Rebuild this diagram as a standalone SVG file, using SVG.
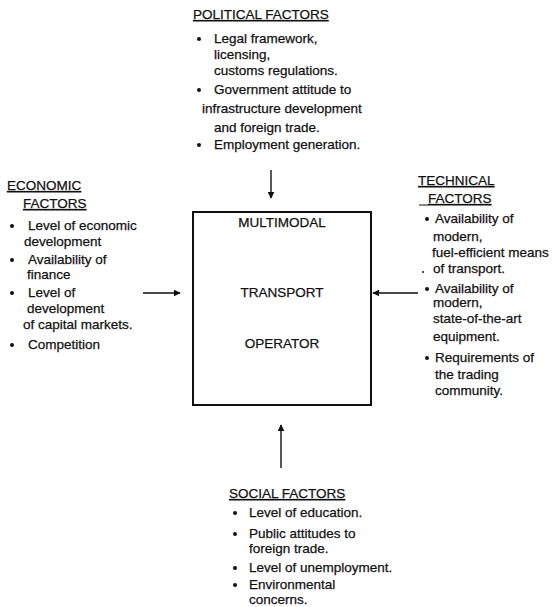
<svg xmlns="http://www.w3.org/2000/svg" width="559" height="607" viewBox="0 0 559 607">
<defs>
<marker id="ah" viewBox="0 0 10 10" refX="9" refY="5" markerWidth="7" markerHeight="7" markerUnits="userSpaceOnUse" orient="auto">
<path d="M0,0 L10,5 L0,10 Z" fill="#111"/>
</marker>
<style>
text{font-family:"Liberation Sans",Arial,sans-serif;font-size:13.5px;fill:#111;stroke:#111;stroke-width:0.25}
.u{text-decoration:underline}
.b{fill:#111}
.c{text-anchor:middle}
.conn line{stroke:#111;stroke-width:1.4;marker-end:url(#ah)}
</style>
</defs>
<rect width="559" height="607" fill="#fff"/>

<g id="operator">
<rect x="193" y="212" width="178" height="193" fill="none" stroke="#111" stroke-width="2"/>
<text class="c" x="282" y="227">MULTIMODAL</text>
<text class="c" x="282" y="297">TRANSPORT</text>
<text class="c" x="282" y="348">OPERATOR</text>
</g>

<g id="political">
<text class="u" x="193" y="19">POLITICAL FACTORS</text>
<circle class="b" cx="199" cy="39" r="2"/>
<text x="214" y="43">Legal framework,</text>
<text x="214" y="59">licensing,</text>
<text x="214" y="75">customs regulations.</text>
<circle class="b" cx="199" cy="90" r="2"/>
<text x="214" y="94">Government attitude to</text>
<text x="202" y="113">infrastructure development</text>
<text x="214" y="132">and foreign trade.</text>
<circle class="b" cx="199" cy="145" r="2"/>
<text x="214" y="149">Employment generation.</text>
</g>

<g id="economic">
<text class="u" x="7" y="190">ECONOMIC</text>
<text class="u" x="23" y="208">FACTORS</text>
<circle class="b" cx="12" cy="226" r="2"/>
<text x="28" y="230">Level of economic</text>
<text x="24" y="246">development</text>
<circle class="b" cx="12" cy="260" r="2"/>
<text x="28" y="264">Availability of</text>
<text x="27" y="279">finance</text>
<circle class="b" cx="12" cy="293" r="2"/>
<text x="28" y="297">Level of</text>
<text x="27" y="313">development</text>
<text x="23" y="329">of capital markets.</text>
<circle class="b" cx="12" cy="345" r="2"/>
<text x="28" y="349">Competition</text>
</g>

<g id="technical">
<text class="u" x="418" y="185">TECHNICAL</text>
<line x1="419" y1="205" x2="428" y2="205" stroke="#111" stroke-width="1"/>
<text class="u" x="428" y="203">FACTORS</text>
<circle class="b" cx="427" cy="219" r="2"/>
<text x="435" y="223">Availability of</text>
<text x="433" y="241">modern,</text>
<text x="432" y="257">fuel-efficient means</text>
<circle class="b" cx="423" cy="272" r="1"/>
<text x="433" y="273">of transport.</text>
<circle class="b" cx="427" cy="289" r="2"/>
<text x="435" y="293">Availability of</text>
<text x="433" y="307">modern,</text>
<text x="433" y="323">state-of-the-art</text>
<text x="433" y="341">equipment.</text>
<circle class="b" cx="427" cy="358" r="2"/>
<text x="435" y="362">Requirements of</text>
<text x="435" y="379">the trading</text>
<text x="435" y="395">community.</text>
</g>

<g id="social">
<text class="u" x="229" y="498">SOCIAL FACTORS</text>
<circle class="b" cx="235" cy="513" r="2"/>
<text x="249" y="517">Level of education.</text>
<circle class="b" cx="235" cy="534" r="2"/>
<text x="249" y="538">Public attitudes to</text>
<text x="249" y="553">foreign trade.</text>
<circle class="b" cx="235" cy="568" r="2"/>
<text x="249" y="572">Level of unemployment.</text>
<circle class="b" cx="235" cy="585" r="2"/>
<text x="249" y="589">Environmental</text>
<text x="249" y="604">concerns.</text>
</g>

<g id="connectors" class="conn">
<line x1="271" y1="170" x2="271" y2="198"/>
<line x1="143" y1="293" x2="180" y2="293"/>
<line x1="418" y1="293" x2="373" y2="293"/>
<line x1="281" y1="468" x2="281" y2="425"/>
</g>
</svg>
